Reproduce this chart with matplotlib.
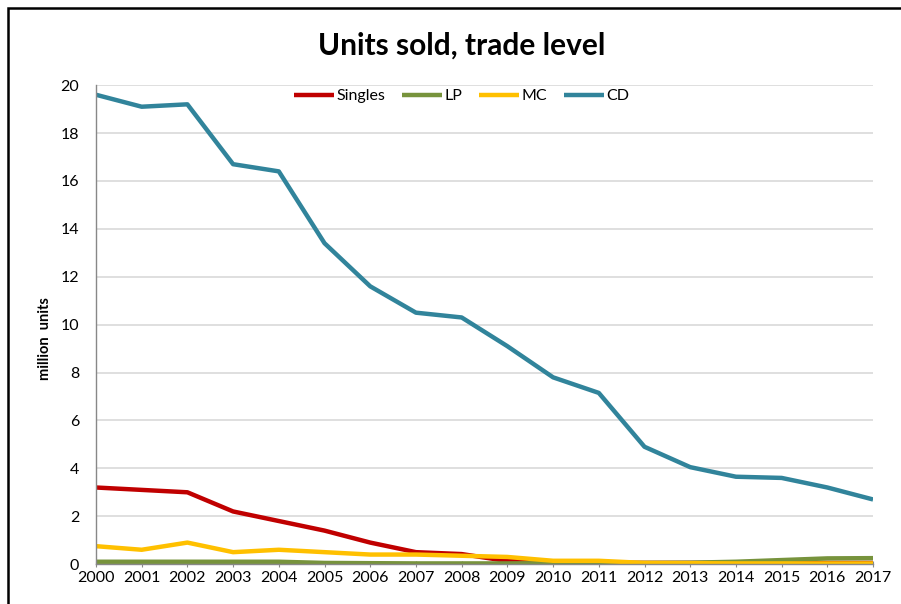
from matplotlib import pyplot as plt
from matplotlib.patches import Rectangle

years = list(range(2000, 2018))
singles = [3.2, 3.1, 3.0, 2.2, 1.8, 1.4, 0.9, 0.5, 0.42, 0.13, 0.08, 0.06, 0.05, 0.05, 0.05, 0.05, 0.05, 0.05]
lp = [0.1, 0.1, 0.1, 0.1, 0.1, 0.05, 0.04, 0.03, 0.03, 0.03, 0.04, 0.04, 0.05, 0.06, 0.1, 0.17, 0.24, 0.25]
mc = [0.75, 0.6, 0.9, 0.5, 0.6, 0.5, 0.4, 0.4, 0.35, 0.3, 0.14, 0.14, 0.05, 0.04, 0.03, 0.03, 0.03, 0.03]
cd = [19.6, 19.1, 19.2, 16.7, 16.4, 13.4, 11.6, 10.5, 10.3, 9.1, 7.8, 7.15, 4.9, 4.05, 3.65, 3.6, 3.2, 2.7]

series = [('Singles', singles, '#C00000'), ('LP', lp, '#77933C'),
          ('MC', mc, '#FFC000'), ('CD', cd, '#31849B')]

plt.rcParams['font.family'] = ['Lato', 'DejaVu Sans']

fig = plt.figure(figsize=(9.01, 6.04), dpi=100)
ax = fig.add_axes([0.1065, 0.066, 0.8625, 0.793])

for name, vals, col in series:
  ax.plot(years, vals, color=col, linewidth=3.2, label=name, solid_capstyle='butt')

ax.set_xlim(2000, 2017)
ax.set_ylim(0, 20)
ax.set_xticks(years)
ax.set_yticks(range(0, 21, 2))
ax.tick_params(axis='x', labelsize=11.5, length=4, direction='inout', color='#888888', pad=3)
ax.tick_params(axis='y', labelsize=11.5, length=0, pad=12)
ax.grid(axis='y', color='#D9D9D9', linewidth=1.2)
ax.set_axisbelow(True)
for s in ['top', 'right']:
  ax.spines[s].set_visible(False)
for s in ['left', 'bottom']:
  ax.spines[s].set_color('#888888')
  ax.spines[s].set_linewidth(1)

ax.set_ylabel('million  units', fontsize=10.5, fontweight='bold')
ax.yaxis.set_label_coords(-0.057, 0.47)
fig.text(0.512, 0.925, 'Units sold, trade level', ha='center', va='center',
         fontsize=21.5, fontweight='bold')

ax.legend(loc='upper center', bbox_to_anchor=(0.471, 1.022), ncol=4, frameon=False,
          fontsize=11.5, handlelength=2.5, handletextpad=0.15, columnspacing=1.05)

fig.patches.append(Rectangle((8/901, -0.1), 1.2, 1 - 8/604 + 0.1, transform=fig.transFigure,
                             fill=False, edgecolor='black', linewidth=1.8))

fig.savefig('out.png', dpi=100)
